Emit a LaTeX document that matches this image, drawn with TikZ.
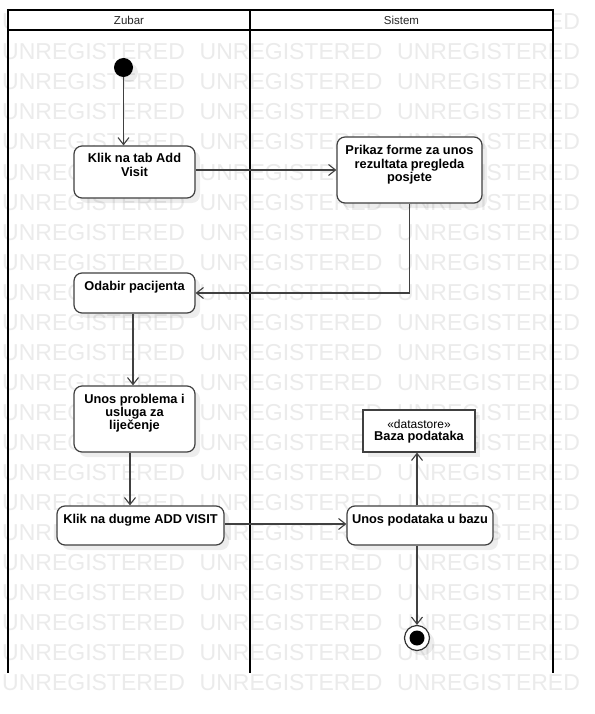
\documentclass[tikz,border=0pt]{standalone}
\usepackage{fontspec}
\setmainfont{Liberation Sans}
\usetikzlibrary{arrows.meta,shadows,calc}
\begin{document}
\begin{tikzpicture}[x=1pt,y=-1pt,
  wm/.style={font=\fontsize{23}{23}\selectfont, text=black!8, inner sep=0pt, anchor=base west},
  lane/.style={draw=black, line width=2pt},
  hdr/.style={font=\fontsize{11.5}{12}\selectfont, text=black!85, inner sep=0pt},
  shad/.style={drop shadow={shadow xshift=5pt, shadow yshift=-5pt, fill=black, opacity=0.07}},
  act/.style={draw=black!75, line width=1.2pt, rounded corners=8pt, fill=white, inner sep=0pt, shad},
  lbl/.style={font=\fontsize{12.8}{13.2}\selectfont\bfseries, align=center, inner sep=0pt, anchor=north},
  dsbox/.style={draw=black!75, line width=1.2pt, fill=white, inner sep=0pt, align=center, shad},
  arr/.style={draw=black!75, line width=1.1pt, -{Straight Barb[length=7pt,width=11pt]}},
]
\useasboundingbox (0,0) rectangle (594,714);
\fill[white] (0,0) rectangle (594,714);
% watermark
\foreach \k in {0,...,22}{
  \foreach \j/\xx in {0/2,1/199.5,2/397}{
    \node[wm] (wm-\k-\j) at (\xx, 30+30*\k) {UNREGISTERED};
  }
}
% swimlanes
\fill[white] (8,10) rectangle (553,30);
\draw[lane] (8,10) -- (553,10);
\draw[lane] (8,30) -- (553,30);
\draw[lane] (8,9) -- (8,673);
\draw[lane] (250,10) -- (250,673);
\draw[lane] (553,9) -- (553,673);
\node[hdr] (hz) at (129,20) {Zubar};
\node[hdr] (hs) at (401.5,20) {Sistem};
% nodes
\node[circle, fill=black, minimum size=19pt, inner sep=0pt, shad] (start) at (123.5,67.5) {};
\node[act, minimum width=121pt, minimum height=52pt,
  label={[lbl, yshift=-8pt]north:{Klik na tab Add\\Visit}}] (b1) at (134.5,172) {};
\node[act, minimum width=145pt, minimum height=66pt,
  label={[lbl, yshift=-9pt]north:{Prikaz forme za unos\\rezultata pregleda\\posjete}}] (b2) at (409.5,170) {};
\node[act, minimum width=121pt, minimum height=40pt,
  label={[lbl, yshift=-9pt]north:{Odabir pacijenta}}] (b3) at (134.5,293) {};
\node[act, minimum width=121pt, minimum height=66pt,
  label={[lbl, yshift=-8.5pt]north:{Unos problema i\\usluga za\\liječenje}}] (b4) at (134.5,419) {};
\node[act, minimum width=167pt, minimum height=39pt,
  label={[lbl, yshift=-8.5pt]north:{Klik na dugme ADD VISIT}}] (b5) at (140.5,525.5) {};
\node[act, minimum width=146pt, minimum height=39pt,
  label={[lbl, yshift=-8.5pt]north:{Unos podataka u bazu}}] (b6) at (420,525.5) {};
\node[dsbox, minimum width=112pt, minimum height=42pt] (ds) at (419,431)
  {{\fontsize{12}{13.5}\selectfont «datastore»}\\{\fontsize{12.8}{13.5}\selectfont\bfseries Baza podataka}};
\node[circle, draw=black!80, line width=1.2pt, fill=white, minimum size=25pt, inner sep=0pt, shad] (fin) at (417,638) {};
\node[circle, fill=black, minimum size=15pt, inner sep=0pt] (finin) at (fin) {};
% connectors
\draw[arr] (start) -- (start |- b1.north);
\draw[arr] ([yshift=2pt]b1.east) -- ([yshift=2pt]b1.east -| b2.west);
\draw[arr] (b2.south) |- (b3.east);
\draw[arr] ([xshift=-1.5pt]b3.south) -- ([xshift=-1.5pt]b4.north);
\draw[arr] ([xshift=-4.5pt]b4.south) -- ([xshift=-10.5pt]b5.north);
\draw[arr] ([yshift=1.5pt]b5.east) -- ([yshift=1.5pt]b6.west);
\draw[arr] ([xshift=-3pt]b6.north) -- ([xshift=-3pt]b6.north |- ds.south);
\draw[arr] ([xshift=-3pt]b6.south) -- (fin.north);
\end{tikzpicture}
\end{document}
